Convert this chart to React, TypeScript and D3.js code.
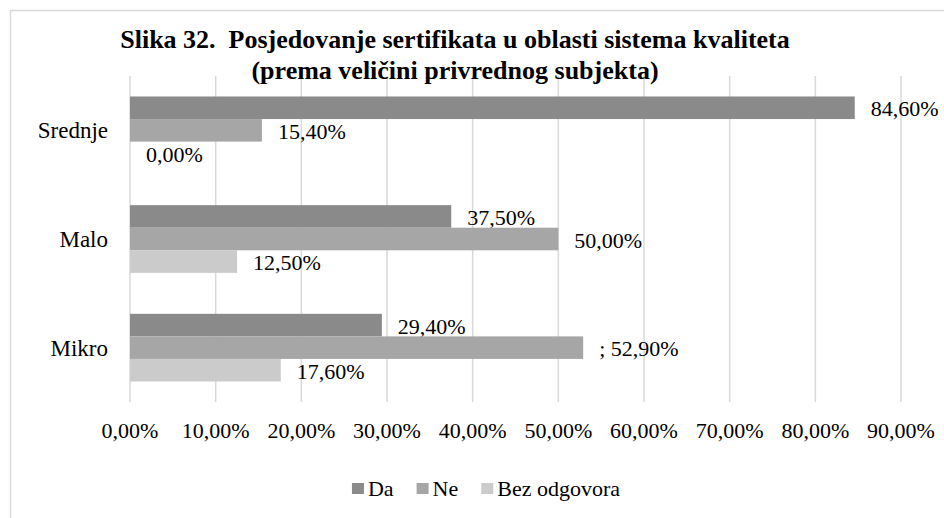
import { useRef, useEffect } from "react";
import * as d3 from "d3";

// kategorije (odozgo prema dolje)
const categories = ["Srednje", "Malo", "Mikro"];
const seriesNames = ["Da", "Ne", "Bez odgovora"];
const seriesColors = ["#8a8a8a", "#a6a6a6", "#cbcbcb"];

// vrijednosti u procentima, po kategorijama
const daValues = [84.6, 37.5, 29.4];
const neValues = [15.4, 50.0, 52.9];
const bezValues = [0.0, 12.5, 17.6];
const neLabelPrefix = ["", "", "; "];

const xTicks = [0, 10, 20, 30, 40, 50, 60, 70, 80, 90];
const titleLines = [
  "Slika 32.  Posjedovanje sertifikata u oblasti sistema kvaliteta",
  "(prema veličini privrednog subjekta)",
];

const FONT = "'Liberation Serif', 'Times New Roman', serif";
const fmt = (v: number) => v.toFixed(2).replace(".", ",") + "%";

const App = () => {
  const svgRef = useRef<SVGSVGElement>(null);

  useEffect(() => {
    const svg = d3.select(svgRef.current);
    svg.selectAll("*").remove();

    const width = 944;
    const height = 518;
    const plot = { left: 130, right: 901, top: 76, bottom: 402 };

    const series = [daValues, neValues, bezValues];
    const prefixes = [["", "", ""], neLabelPrefix, ["", "", ""]];

    // okvir grafikona
    svg.append("rect")
      .attr("x", 10.5)
      .attr("y", 10.5)
      .attr("width", width + 20)
      .attr("height", height + 20)
      .attr("fill", "white")
      .attr("stroke", "#d9d9d9")
      .attr("stroke-width", 1.5);

    const xScale = d3.scaleLinear().domain([0, 90]).range([plot.left, plot.right]);

    const yScale = d3
      .scaleBand<string>()
      .domain(categories)
      .range([plot.top, plot.bottom])
      .paddingInner(0.377)
      .paddingOuter(0.1885);

    const inner = d3
      .scaleBand<number>()
      .domain(d3.range(series.length))
      .range([0, yScale.bandwidth()]);

    // mreža
    svg.append("g")
      .selectAll("line")
      .data(xTicks)
      .enter()
      .append("line")
      .attr("x1", (d) => xScale(d))
      .attr("x2", (d) => xScale(d))
      .attr("y1", plot.top)
      .attr("y2", plot.bottom)
      .attr("stroke", "#d9d9d9")
      .attr("stroke-width", 1.5);

    // oznake ose x
    svg.append("g")
      .selectAll("text")
      .data(xTicks)
      .enter()
      .append("text")
      .attr("x", (d) => xScale(d))
      .attr("y", 438)
      .attr("text-anchor", "middle")
      .attr("font-family", FONT)
      .attr("font-size", 22)
      .attr("fill", "#000")
      .text((d) => fmt(d));

    // oznake kategorija
    svg.append("g")
      .selectAll("text")
      .data(categories)
      .enter()
      .append("text")
      .attr("x", 108)
      .attr("y", (d) => yScale(d)! + yScale.bandwidth() / 2)
      .attr("dy", "0.35em")
      .attr("text-anchor", "end")
      .attr("font-family", FONT)
      .attr("font-size", 23)
      .attr("fill", "#000")
      .text((d) => d);

    // stupci i vrijednosti
    series.forEach((vals, si) => {
      const g = svg.append("g");
      g.selectAll("rect")
        .data(vals)
        .enter()
        .append("rect")
        .attr("x", xScale(0))
        .attr("y", (d, i) => yScale(categories[i])! + inner(si)!)
        .attr("width", (d) => xScale(d) - xScale(0))
        .attr("height", inner.bandwidth())
        .attr("fill", seriesColors[si]);

      g.selectAll("text")
        .data(vals)
        .enter()
        .append("text")
        .attr("x", (d) => xScale(d) + 16)
        .attr("y", (d, i) => yScale(categories[i])! + inner(si)! + inner.bandwidth() / 2 + 1)
        .attr("dy", "0.35em")
        .attr("font-family", FONT)
        .attr("font-size", 22)
        .attr("fill", "#000")
        .text((d, i) => prefixes[si][i] + fmt(d));
    });

    // naslov
    svg.append("g")
      .selectAll("text")
      .data(titleLines)
      .enter()
      .append("text")
      .attr("x", 455)
      .attr("y", (d, i) => 48 + i * 31)
      .attr("text-anchor", "middle")
      .attr("font-family", FONT)
      .attr("font-weight", "bold")
      .attr("font-size", 26)
      .attr("fill", "#000")
      .style("white-space", "pre")
      .text((d) => d);

    // legenda
    const legend = svg.append("g");
    const items = legend
      .selectAll("g")
      .data(seriesNames)
      .enter()
      .append("g");
    items.append("rect")
      .attr("y", 483)
      .attr("width", 12)
      .attr("height", 11)
      .attr("fill", (d, i) => seriesColors[i]);
    items.append("text")
      .attr("x", 16)
      .attr("y", 496)
      .attr("font-family", FONT)
      .attr("font-size", 22)
      .attr("fill", "#000")
      .text((d) => d);

    let x = 0;
    const offsets: number[] = [];
    items.each(function () {
      offsets.push(x);
      const w = (d3.select(this).select("text").node() as SVGTextElement).getComputedTextLength();
      x += 16 + w + 23;
    });
    const total = x - 23;
    const startX = 486 - total / 2;
    items.attr("transform", (d, i) => `translate(${startX + offsets[i]},0)`);
  }, []);

  return (
    <svg
      ref={svgRef}
      width={944}
      height={518}
      style={{ position: "absolute", left: 0, top: 0, background: "white" }}
    ></svg>
  );
};

export default App;
